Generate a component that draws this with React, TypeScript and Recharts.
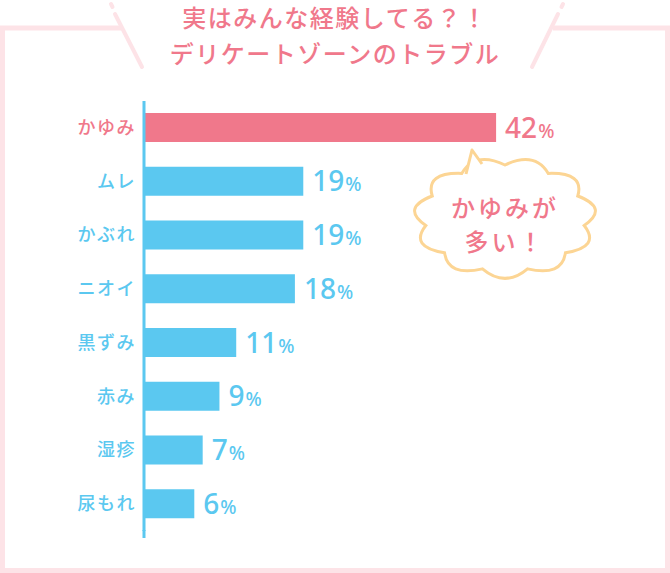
import React from "react";
import { BarChart, Bar, XAxis, YAxis, Cell, LabelList } from "recharts";

// 調査結果（%）
const categories = ["かゆみ", "ムレ", "かぶれ", "ニオイ", "黒ずみ", "赤み", "湿疹", "尿もれ"];
const percents = [42, 19, 19, 18, 11, 9, 7, 6];
const highlighted = ["かゆみ"];

const titleLines = ["実はみんな経験してる？！", "デリケートゾーンのトラブル"];
const bubbleLines = ["かゆみが", "多い！"];

const PINK = "#f0788b";
const BLUE = "#5bc8f0";
const FRAME = "#fde3e7";
const CLOUD = "#fcd594";
const FONT = "'Noto Sans CJK JP', 'Noto Sans', sans-serif";

const data = categories.map((name, i) => ({ name, value: percents[i] }));
const colorOf = (name: string) => (highlighted.includes(name) ? PINK : BLUE);

function CategoryTick(props: any) {
  const { x, y, payload } = props;
  return (
    <text
      x={x}
      y={y}
      dy={6}
      textAnchor="end"
      fill={colorOf(payload.value)}
      fontSize={18}
      fontWeight={500}
      letterSpacing={1.5}
      fontFamily={FONT}
    >
      {payload.value}
    </text>
  );
}

function ValueLabel(props: any) {
  const { x, y, width, height, value, index } = props;
  const color = colorOf(categories[index]);
  return (
    <text
      x={x + width + 9}
      y={y + height / 2 + 10}
      fill={color}
      fontFamily="'Noto Sans', sans-serif"
      fontWeight={500}
    >
      <tspan fontSize={28}>{value}</tspan>
      <tspan fontSize={19} dx={1}>%</tspan>
    </text>
  );
}

// もくもく雲の輪郭（装飾）
function cloudPath(cx: number, cy: number, rx: number, ry: number, n: number) {
  const pts = [];
  for (let i = 0; i <= n; i++) {
    const a = (i / n) * Math.PI * 2 - Math.PI / 2;
    pts.push([cx + rx * Math.cos(a), cy + ry * Math.sin(a)]);
  }
  let d = `M${pts[0][0]},${pts[0][1]}`;
  for (let i = 0; i < n; i++) {
    const a = ((i + 0.5) / n) * Math.PI * 2 - Math.PI / 2;
    const k = 1.32;
    d += ` Q${cx + rx * k * Math.cos(a)},${cy + ry * k * Math.sin(a)} ${pts[i + 1][0]},${pts[i + 1][1]}`;
  }
  return d + " Z";
}

function Decorations() {
  return (
    <svg
      width={670}
      height={573}
      style={{ position: "absolute", left: 0, top: 0, pointerEvents: "none" }}
    >
      {/* 枠 */}
      <path
        d="M121,28 L2.5,28 L2.5,570.5 L667.5,570.5 L667.5,28 L553,28"
        fill="none"
        stroke={FRAME}
        strokeWidth={5}
      />
      <g stroke={FRAME} strokeWidth={4} strokeLinecap="round">
        <line x1={111} y1={4} x2={112.5} y2={7} />
        <line x1={115} y1={14} x2={142} y2={67} />
        <line x1={563} y1={4} x2={561.5} y2={7} />
        <line x1={558} y1={14} x2={532} y2={67} />
      </g>
      {/* タイトル */}
      {titleLines.map((t, i) => (
        <text
          key={t}
          x={335}
          y={27 + i * 36}
          textAnchor="middle"
          fill={PINK}
          fontSize={24}
          fontWeight={500}
          letterSpacing={1.5}
          fontFamily={FONT}
        >
          {t}
        </text>
      ))}
      {/* 軸の下端 */}
      <line x1={144} y1={530} x2={144} y2={538} stroke={BLUE} strokeWidth={3} />
      {/* 吹き出し */}
      <path d={cloudPath(505, 218, 80, 53, 11)} fill="#fff" stroke={CLOUD} strokeWidth={3} />
      <path d="M464,182 L472,150 L486,172 Z" fill="#fff" stroke="none" />
      <path d="M466,174 L472,150 L482,164" fill="none" stroke={CLOUD} strokeWidth={3} strokeLinejoin="round" />
      {bubbleLines.map((t, i) => (
        <text
          key={t}
          x={505}
          y={217 + i * 34}
          textAnchor="middle"
          fill={PINK}
          fontSize={24}
          fontWeight={500}
          letterSpacing={3}
          fontFamily={FONT}
        >
          {t}
        </text>
      ))}
    </svg>
  );
}

export default function App() {
  return (
    <div style={{ position: "relative", width: 670, height: 573, background: "#fff" }}>
      <style>{`body{margin:0}`}</style>
      <BarChart
        width={670}
        height={573}
        data={data}
        layout="vertical"
        margin={{ top: 101, right: 23, bottom: 42, left: 0 }}
      >
        <XAxis type="number" domain={[0, 60]} hide />
        <YAxis
          type="category"
          dataKey="name"
          width={144}
          interval={0}
          axisLine={{ stroke: BLUE, strokeWidth: 3 }}
          tickLine={false}
          tick={<CategoryTick />}
        />
        <Bar dataKey="value" barSize={29} isAnimationActive={false}>
          {data.map((d) => (
            <Cell key={d.name} fill={colorOf(d.name)} />
          ))}
          <LabelList dataKey="value" content={<ValueLabel />} />
        </Bar>
      </BarChart>
      <Decorations />
    </div>
  );
}
